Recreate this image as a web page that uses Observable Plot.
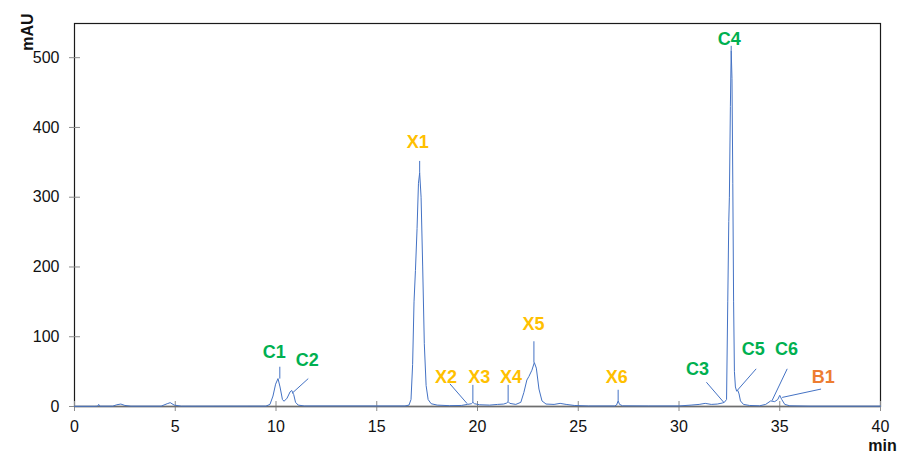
<!DOCTYPE html>
<html>
<head>
<meta charset="utf-8">
<script src="https://cdn.jsdelivr.net/npm/d3@7"></script>
<script src="https://cdn.jsdelivr.net/npm/@observablehq/plot@0.6"></script>
<style>
  html, body { margin: 0; padding: 0; background: #fff; }
  #chart { width: 898px; height: 456px; }
</style>
</head>
<body>
<div id="chart"></div>
<script>
// Chromatogram trace (retention time in min, absorbance in mAU)
const time = [0, 1.0, 1.15, 1.2, 1.25, 1.9, 2.1, 2.3, 2.5, 2.8, 4.3, 4.6, 4.75, 4.95, 5.3,
  9.5, 9.7, 9.85, 9.98, 10.1, 10.2, 10.32, 10.4, 10.55, 10.7, 10.78, 10.88, 10.97, 11.1, 11.4,
  16.4, 16.6, 16.7, 16.78, 16.85, 16.92, 17.0, 17.07, 17.13, 17.2, 17.28, 17.36, 17.45, 17.55, 17.7, 18.0,
  18.6, 19.2, 19.5, 19.7, 19.77, 19.85, 20.1, 20.6, 21.0, 21.3, 21.45, 21.52, 21.6, 21.9,
  22.15, 22.3, 22.45, 22.55, 22.7, 22.82, 22.92, 23.05, 23.2, 23.4, 23.8, 24.1, 24.4, 24.8, 25.5,
  26.8, 26.9, 26.98, 27.05, 27.2, 28.5, 30.0, 30.6, 31.0, 31.3, 31.6, 31.9, 32.15, 32.25,
  32.36, 32.42, 32.47, 32.5, 32.55, 32.59, 32.63, 32.67, 32.71, 32.75, 32.8, 32.86, 32.92, 32.98, 33.05, 33.2, 33.5,
  34.0, 34.3, 34.55, 34.75, 34.9, 35.0, 35.1, 35.25, 35.5, 36.5, 40];
const mAU = [0.3, 0.3, 0.5, 3, 0.5, 0.5, 2.5, 3.5, 1.5, 0.5, 0.5, 4, 5.5, 2, 0.5,
  0.6, 3, 15, 32, 40, 28, 10, 7.5, 12, 21, 23, 17, 6, 2, 0.8,
  0.8, 2, 10, 60, 150, 195, 255, 320, 335, 300, 200, 90, 30, 10, 4, 2,
  1.2, 1.5, 3, 4, 6, 4, 2.5, 2, 3, 3.5, 5, 7, 4.5, 3,
  6, 20, 38, 43, 52, 63, 55, 25, 8, 3.5, 3, 4.5, 3, 1.5, 0.8,
  0.8, 2, 8, 3, 1, 0.8, 0.8, 2, 3, 4.5, 3, 3.5, 5, 6,
  10, 150, 265, 300, 430, 510, 470, 320, 150, 50, 28, 22, 23, 18, 8, 3, 1.5,
  1, 3, 8, 7, 10, 16, 10, 3, 1, 0.5, 0.5];

// Peak labels
const peakNames  = ["C1", "C2", "X1", "X2", "X3", "X4", "X5", "X6", "C3", "C4", "C5", "C6", "B1"];
const peakGroups = ["C", "C", "X", "X", "X", "X", "X", "X", "C", "C", "C", "C", "B"];
const labelTime  = [9.91, 11.55, 17.03, 18.44, 20.09, 21.66, 22.78, 26.91, 30.92, 32.49, 33.69, 35.34, 37.16];
const labelMAU   = [78, 67, 379, 42, 42, 42, 118, 42.5, 54, 526.6, 82, 82, 42];

// Leader lines: from label side (t1, y1) to peak (t2, y2)
const leaderT1 = [10.19, 11.6, 17.13, 18.63, 19.77, 21.52, 22.8, 26.98, 31.36, 32.59, 33.83, 35.37, 37.05];
const leaderY1 = [57, 40, 352, 32.5, 31, 31, 93.5, 24, 34.8, 517, 54, 54, 25];
const leaderT2 = [10.19, 10.8, 17.13, 19.49, 19.77, 21.52, 22.8, 26.98, 32.22, 32.59, 32.89, 34.62, 35.12];
const leaderY2 = [40, 19, 335, 4, 6, 7, 63, 8, 6, 510, 23, 8.6, 13];

// Axis ticks
const xTicks = [0, 5, 10, 15, 20, 25, 30, 35, 40];
const yTicks = [0, 100, 200, 300, 400, 500];

const trace = time.map((t, i) => ({t, v: mAU[i]}));
const labels = peakNames.map((n, i) => ({name: n, group: peakGroups[i], t: labelTime[i], v: labelMAU[i]}));
const leaders = leaderT1.map((t, i) => ({t1: t, y1: leaderY1[i], t2: leaderT2[i], y2: leaderY2[i]}));
const groupColor = {C: "#00B050", X: "#FFC000", B: "#ED7D31"};
const lineColor = "#4472C4";

const W = 898, H = 456, mL = 74, mR = 18, mT = 23, mB = 50;
const pw = W - mL - mR, ph = H - mT - mB;

const chart = Plot.plot({
  width: W, height: H,
  marginLeft: mL, marginRight: mR, marginTop: mT, marginBottom: mB,
  style: {fontFamily: "'Liberation Sans', Arial, sans-serif", background: "#fff"},
  x: {domain: [0, 40]},
  y: {domain: [0, 549]},
  marks: [
    Plot.frame({stroke: "#1a1a1a", strokeWidth: 1.2}),
    Plot.tickY(yTicks, {y: d => d, stroke: "#8c8c8c", insetRight: pw - 11, dx: -5}),
    Plot.tickX(xTicks, {x: d => d, stroke: "#8c8c8c", insetTop: ph - 10, dy: 5}),
    Plot.ruleY([0], {stroke: "#6e6e6e", strokeWidth: 1.6}),
    Plot.line(trace, {x: "t", y: "v", stroke: lineColor, strokeWidth: 1, curve: "linear"}),
    Plot.link(leaders, {x1: "t1", y1: "y1", x2: "t2", y2: "y2", stroke: lineColor, strokeWidth: 1}),
    Plot.text(labels, {x: "t", y: "v", text: "name", fill: d => groupColor[d.group],
      fontSize: 18, fontWeight: "bold", textAnchor: "middle"}),
    Plot.axisY(yTicks, {tickSize: 0, tickPadding: 15, fontSize: 16, fill: "#111"}),
    Plot.axisX(xTicks, {tickSize: 0, tickPadding: 14, fontSize: 16, fill: "#111"}),
    Plot.text(["mAU"], {frameAnchor: "top-left", text: d => d, rotate: -90, dx: -53, dy: 8.5,
      textAnchor: "middle", fontWeight: "bold", fontSize: 16, fill: "#111"}),
    Plot.text(["min"], {frameAnchor: "bottom-right", text: d => d, dx: 2, dy: 44.5,
      textAnchor: "middle", fontWeight: "bold", fontSize: 16, fill: "#111"})
  ]
});
document.getElementById("chart").appendChild(chart);
</script>
</body>
</html>
